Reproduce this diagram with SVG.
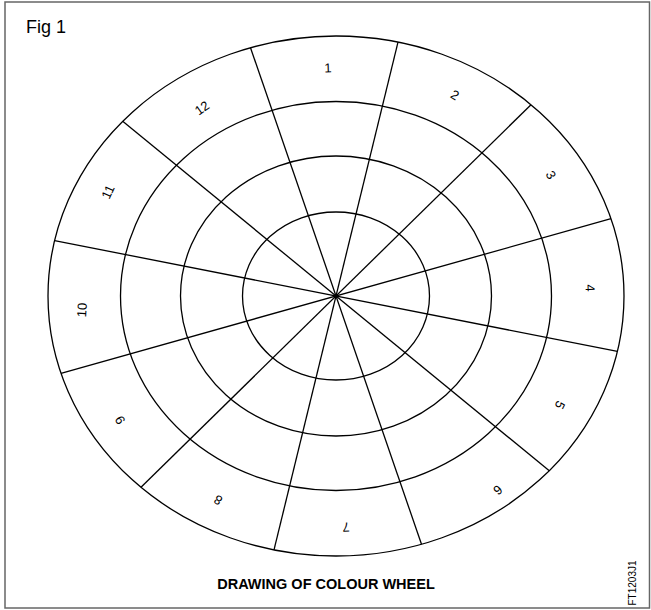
<svg xmlns="http://www.w3.org/2000/svg" width="651" height="610" viewBox="0 0 651 610">
<style>
.ring{fill:none;stroke:#000;stroke-width:1.3}
.sp{stroke:#000;stroke-width:1.3}
.lbl{font-family:"Liberation Sans",Arial,sans-serif;font-size:13px;fill:#000;text-anchor:middle;dominant-baseline:central}
</style>
<rect x="5" y="2" width="644.5" height="606" fill="#fff" stroke="#666" stroke-width="1.5"/>
<text x="26" y="33" font-family="Liberation Sans, Arial, sans-serif" font-size="18" fill="#000">Fig 1</text>
<g id="rings">
<ellipse class="ring" cx="336" cy="296" rx="288" ry="260"/>
<ellipse class="ring" cx="336" cy="296" rx="215.5" ry="194.5"/>
<ellipse class="ring" cx="336" cy="296" rx="155.5" ry="140"/>
<ellipse class="ring" cx="336" cy="296" rx="93.5" ry="84"/>
</g>
<g id="connectors">
<line class="sp" x1="250.5" y1="47.7" x2="421.5" y2="544.3"/>
<line class="sp" x1="398" y1="42.1" x2="274" y2="549.9"/>
<line class="sp" x1="531" y1="104.7" x2="141" y2="487.3"/>
<line class="sp" x1="611" y1="218.7" x2="61" y2="373.3"/>
<line class="sp" x1="54.6" y1="240.6" x2="617.4" y2="351.4"/>
<line class="sp" x1="122.7" y1="121.2" x2="549.3" y2="470.8"/>
</g>
<g id="s1"><text class="lbl" transform="translate(328,68) rotate(-2)">1</text></g>
<g id="s2"><text class="lbl" transform="translate(455,95) rotate(31)">2</text></g>
<g id="s3"><text class="lbl" transform="translate(551,175) rotate(61)">3</text></g>
<g id="s4"><text class="lbl" transform="translate(590,288) rotate(88)">4</text></g>
<g id="s5"><text class="lbl" transform="translate(560,405) rotate(116)">5</text></g>
<g id="s6"><text class="lbl" transform="translate(498,490) rotate(140)">6</text></g>
<g id="s7"><text class="lbl" transform="translate(346,527) rotate(178)">7</text></g>
<g id="s8"><text class="lbl" transform="translate(218,500) rotate(210)">8</text></g>
<g id="s9"><text class="lbl" transform="translate(120,420) rotate(240)">9</text></g>
<g id="s10"><text class="lbl" transform="translate(82,310) rotate(273)">10</text></g>
<g id="s11"><text class="lbl" transform="translate(108,192) rotate(294)">11</text></g>
<g id="s12"><text class="lbl" transform="translate(202,108) rotate(325)">12</text></g>
<text x="326" y="589" font-family="Liberation Sans, Arial, sans-serif" font-size="14.5" font-weight="bold" text-anchor="middle" fill="#000">DRAWING OF COLOUR WHEEL</text>
<text transform="translate(636,583) rotate(-90)" font-family="Liberation Sans, Arial, sans-serif" font-size="10" text-anchor="middle" fill="#000">FT1203J1</text>
</svg>
